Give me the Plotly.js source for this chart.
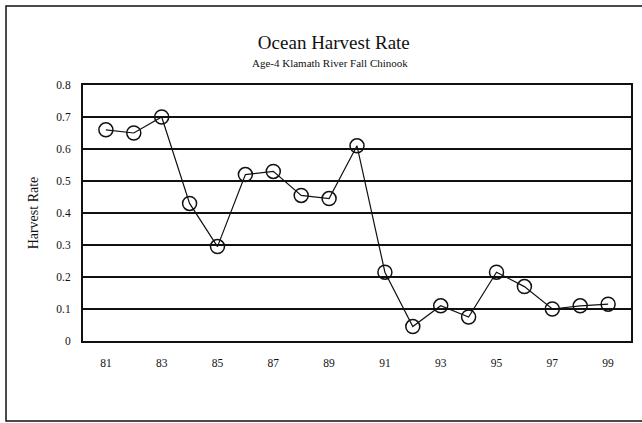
<!DOCTYPE html>
<html>
<head>
<meta charset="utf-8">
<script src="https://cdn.plot.ly/plotly-3.0.1.min.js"></script>
<style>html,body{margin:0;padding:0;background:#fff;}#chart{width:642px;height:423px;}</style>
</head>
<body>
<div id="chart"></div>
<script>
const years = [81,82,83,84,85,86,87,88,89,90,91,92,93,94,95,96,97,98,99];
const harvestRate = [0.66,0.65,0.70,0.43,0.295,0.52,0.53,0.455,0.445,0.61,0.215,0.045,0.11,0.075,0.215,0.17,0.10,0.11,0.115];
const xTicks = [81,83,85,87,89,91,93,95,97,99];
const yTicks = [0,0.1,0.2,0.3,0.4,0.5,0.6,0.7,0.8];
const yTickText = ['0','0.1','0.2','0.3','0.4','0.5','0.6','0.7','0.8'];

const font = 'Liberation Serif, Times New Roman, serif';
Plotly.newPlot('chart', [{
  x: years, y: harvestRate, type: 'scatter', mode: 'lines+markers',
  line: {color: '#111', width: 1.2},
  marker: {symbol: 'circle-open', size: 14, color: '#111', line: {width: 1.5, color: '#111'}},
  cliponaxis: false
}], {
  width: 642, height: 423,
  margin: {l: 83, r: 11, t: 85, b: 82},
  paper_bgcolor: '#fff', plot_bgcolor: '#fff',
  showlegend: false,
  font: {family: font, color: '#111'},
  title: {text: 'Ocean Harvest Rate', font: {family: font, size: 19, color: '#111'}, x: 0.52, xanchor: 'center', y: 0.9, yanchor: 'middle'},
  annotations: [{text: 'Age-4 Klamath River Fall Chinook', xref: 'paper', yref: 'paper', x: 0.45, y: 1.085, xanchor: 'center', yanchor: 'middle', showarrow: false, font: {family: font, size: 11, color: '#111'}}],
  xaxis: {range: [80.18, 99.82], tickvals: xTicks, ticktext: xTicks.map(String), showgrid: false, zeroline: false,
          showline: true, linecolor: '#111', linewidth: 2, mirror: true, ticks: '', tickfont: {family: font, size: 11.5, color: '#111'}, ticklabelstandoff: 10},
  yaxis: {range: [0, 0.8], tickvals: yTicks, ticktext: yTickText, showgrid: true, gridcolor: '#111', gridwidth: 1.5, zeroline: false,
          showline: true, linecolor: '#111', linewidth: 2, mirror: true, ticks: '', tickfont: {family: font, size: 11.5, color: '#111'}, ticklabelstandoff: 8,
          title: {text: 'Harvest Rate', font: {family: font, size: 14, color: '#111'}, standoff: 14}},
  shapes: [{type: 'rect', xref: 'paper', yref: 'paper', x0: -0.1405, x1: 1.04, y0: -0.3125, y1: 1.3086, line: {color: '#111', width: 1.5}, fillcolor: 'rgba(0,0,0,0)', layer: 'below'}]
}, {displayModeBar: false, staticPlot: true});
</script>
</body>
</html>
